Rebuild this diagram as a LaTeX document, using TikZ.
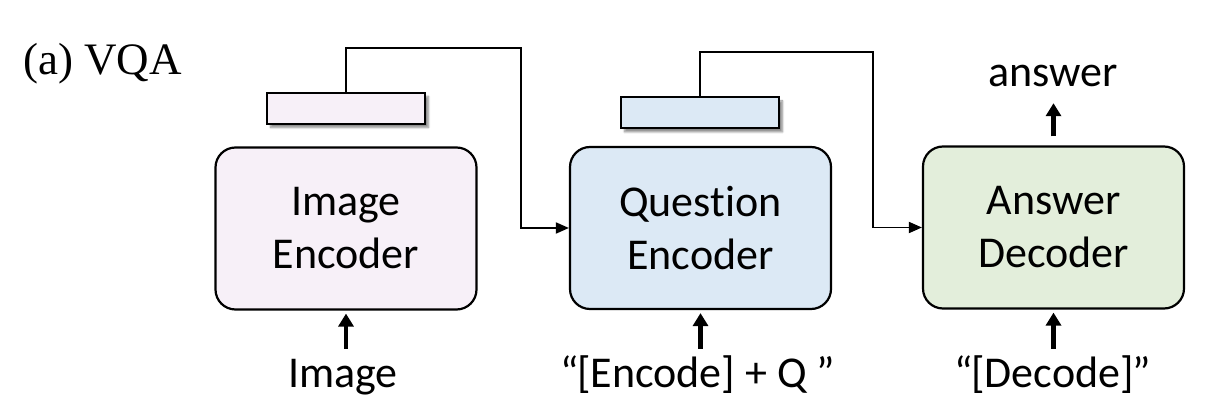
\documentclass[tikz,border=0pt]{standalone}
\usepackage{fontspec}
\setmainfont[RawFeature={-liga;-dlig;-clig}]{Carlito}
\newfontfamily\timesfont{Liberation Serif}
\usetikzlibrary{arrows.meta,shadows.blur}
\definecolor{imgfill}{HTML}{F7F0F8}
\definecolor{qfill}{HTML}{DCE9F5}
\definecolor{afill}{HTML}{E3EEDB}
\tikzset{
  block/.style={draw=black, line width=2.2pt, rounded corners=20pt, minimum width=261pt, minimum height=162pt, align=center, inner sep=0pt, font=\fontsize{44}{53}\selectfont},
  feat/.style={draw=black, line width=2pt, minimum width=158pt, minimum height=31pt, inner sep=0pt,
    blur shadow={shadow xshift=3.5pt, shadow yshift=-3.5pt, shadow blur steps=6, shadow opacity=45}},
  lab/.style={anchor=base, inner sep=0pt, text height=27pt, text depth=8pt, font=\fontsize{44}{53}\selectfont},
  conn/.style={line width=1.8pt, -{Triangle[length=13pt,width=11pt]}},
  bigarrow/.style={line width=4.5pt, -{Triangle[length=13pt,width=15pt]}},
}
\begin{document}
\begin{tikzpicture}[x=1pt,y=1pt]
\useasboundingbox (0,0) rectangle (1224,420);
\node[anchor=base west, inner sep=0pt, font=\timesfont\fontsize{45}{54}\selectfont] (title) at (23,345) {(a) VQA};

\node[block, fill=imgfill] (ienc) at (346,191.5) {Image\\Encoder};
\node[block, fill=qfill] (qenc) at (700.5,192) {Question\\Encoder};
\node[block, fill=afill] (adec) at (1053.5,192.5) {Answer\\Decoder};

\node[feat, fill=imgfill] (ifeat) at (346,311.5) {};
\node[feat, fill=qfill] (qfeat) at (700,307) {};

\coordinate (c1a) at (346,372);
\coordinate (c1b) at (521,372);
\coordinate (c1c) at (521,192);
\draw[conn, line join=miter] (ifeat.north) -- (c1a) -- (c1b) -- (c1c) -- (qenc.west);

\coordinate (c2a) at (700,368);
\coordinate (c2b) at (873,368);
\coordinate (c2c) at (873,192.5);
\draw[conn, line join=miter] (qfeat.north) -- (c2a) -- (c2b) -- (c2c) -- (adec.west);

\node[lab] (limg) at (343,32) {Image};
\node[lab] (lq) at (698,32) {“\kern-2pt[Encode] + Q ”};
\node[lab] (ld) at (1053,32) {“\kern-2pt[Decode]\kern-1pt”};
\node[lab] (lans) at (1053,333) {answer};

\draw[bigarrow, shorten <=12pt, shorten >=3pt] (limg.north -| ienc.south) -- (ienc.south);
\draw[bigarrow, shorten <=12pt, shorten >=3pt] (lq.north -| qenc.south) -- (qenc.south);
\draw[bigarrow, shorten <=12pt, shorten >=3pt] (ld.north -| adec.south) -- (adec.south);
\draw[bigarrow, shorten <=9pt, shorten >=8pt] (adec.north) -- (lans.south -| adec.north);
\end{tikzpicture}
\end{document}
